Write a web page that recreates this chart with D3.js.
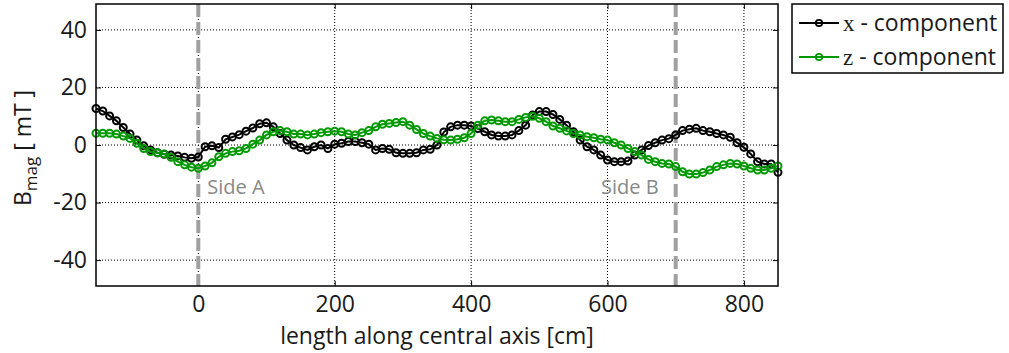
<!DOCTYPE html>
<html>
<head>
<meta charset="utf-8">
<script src="https://cdn.jsdelivr.net/npm/d3@7"></script>
<style>
  body { margin: 0; background: #fff; }
  text { font-family: "Open Sans", Lato, sans-serif; }
</style>
</head>
<body>
<svg id="chart" width="1009" height="353"></svg>
<script>
// positions along the axis [cm]
var positions = [-150,-140,-130,-120,-110,-100,-90,-80,-70,-60,-50,-40,-30,-20,-10,
  0,10,20,30,40,50,60,70,80,90,100,110,120,130,140,150,160,170,180,190,
  200,210,220,230,240,250,260,270,280,290,300,310,320,330,340,350,360,370,380,390,
  400,410,420,430,440,450,460,470,480,490,500,510,520,530,540,550,560,570,580,590,
  600,610,620,630,640,650,660,670,680,690,700,710,720,730,740,750,760,770,780,790,
  800,810,820,830,840,850];

// x - component [mT]
var xComp = [12.7,11.8,10.1,8.4,6.1,3.8,1.7,-0.3,-1.7,-2.7,-3.2,-3.5,-3.8,-4.3,-4.6,
  -4.2,-0.6,-0.3,-0.9,2.0,2.8,3.6,4.8,5.9,7.4,7.7,6.3,4.0,1.7,0.0,-0.9,-1.7,-0.6,0.0,-1.2,
  0.3,0.6,1.2,1.2,0.8,0.3,-1.7,-1.2,-1.5,-2.7,-2.9,-2.9,-2.7,-1.7,-1.5,0.0,4.5,6.3,6.9,6.9,
  6.6,5.7,4.6,3.5,3.1,3.1,3.5,5.0,6.9,10.4,11.6,11.6,10.6,8.9,6.9,4.6,1.7,-0.6,-1.7,-3.5,
  -5.2,-5.8,-5.8,-5.6,-3.5,-1.7,-0.2,0.8,1.7,2.2,3.5,5.0,5.5,5.8,5.0,4.6,4.0,3.5,2.7,0.8,
  -0.8,-3.1,-5.8,-6.6,-6.6,-9.5];

// z - component [mT]
var zComp = [4.1,4.1,4.1,3.8,3.1,2.3,0.6,-1.2,-2.3,-2.7,-3.1,-4.3,-5.8,-6.9,-7.7,
  -8.1,-7.3,-6.2,-4.1,-2.9,-2.3,-2.0,-1.2,0.3,1.7,3.5,4.6,5.0,4.6,3.8,3.8,3.5,3.8,4.3,4.6,
  4.8,4.6,3.8,3.5,4.3,5.0,6.3,7.2,7.5,7.8,8.1,6.9,5.4,4.0,3.1,2.3,1.8,1.7,2.0,2.5,
  4.0,6.9,8.4,8.7,8.4,8.1,8.1,8.9,9.6,10.0,9.3,8.1,6.6,5.8,4.9,4.0,3.5,2.9,2.5,2.0,
  1.7,0.8,0.0,-1.2,-2.3,-3.5,-5.0,-5.8,-6.4,-6.6,-7.5,-9.3,-10.1,-10.1,-9.6,-8.7,-7.5,-6.9,-6.4,-6.6,
  -7.3,-8.1,-8.7,-8.7,-8.1,-7.3];

var xTicks = [0, 200, 400, 600, 800];
var yTicks = [-40, -20, 0, 20, 40];
var sides = [{pos: 0, label: "Side A"}, {pos: 700, label: "Side B"}];
var seriesNames = ["x", "z"];
var seriesColors = ["#000000", "#009900"];

var svg = d3.select("#chart");
var pLeft = 96, pRight = 778, pTop = 4, pBottom = 286;

var x = d3.scaleLinear().domain([-150, 850]).range([pLeft, pRight]);
var y = d3.scaleLinear().domain([-49, 49]).range([pBottom, pTop]);

var chart = svg.append("g");

// grid
chart.selectAll(".gx").data(xTicks).enter().append("line")
  .attr("x1", function(d) { return x(d); }).attr("x2", function(d) { return x(d); })
  .attr("y1", pTop).attr("y2", pBottom)
  .attr("stroke", "#000").attr("stroke-width", 1).attr("stroke-dasharray", "1,2");
chart.selectAll(".gy").data(yTicks).enter().append("line")
  .attr("x1", pLeft).attr("x2", pRight)
  .attr("y1", function(d) { return y(d); }).attr("y2", function(d) { return y(d); })
  .attr("stroke", "#000").attr("stroke-width", 1).attr("stroke-dasharray", "1,2");

// axes with inward ticks
chart.append("g").attr("transform", "translate(0," + pBottom + ")")
  .call(d3.axisBottom(x).tickValues(xTicks).tickSize(-5).tickPadding(10).tickFormat(String))
  .call(function(g) { g.select(".domain").remove(); });
chart.append("g").attr("transform", "translate(0," + pTop + ")")
  .call(d3.axisTop(x).tickValues(xTicks).tickSize(-5).tickFormat(""))
  .call(function(g) { g.select(".domain").remove(); });
chart.append("g").attr("transform", "translate(" + pLeft + ",0)")
  .call(d3.axisLeft(y).tickValues(yTicks).tickSize(-5).tickPadding(9).tickFormat(String))
  .call(function(g) { g.select(".domain").remove(); });
chart.append("g").attr("transform", "translate(" + pRight + ",0)")
  .call(d3.axisRight(y).tickValues(yTicks).tickSize(-5).tickFormat(""))
  .call(function(g) { g.select(".domain").remove(); });

chart.selectAll(".tick text").attr("font-size", 23).attr("fill", "#1a1a1a")
  .style("font-family", "'Open Sans', sans-serif");
chart.selectAll(".tick line").attr("stroke", "#000").attr("stroke-width", 1);

// side markers
chart.selectAll(".side").data(sides).enter().append("line")
  .attr("x1", function(d) { return x(d.pos); }).attr("x2", function(d) { return x(d.pos); })
  .attr("y1", pTop).attr("y2", pBottom)
  .attr("stroke", "#a0a0a0").attr("stroke-width", 4).attr("stroke-dasharray", "13,5");

chart.selectAll(".sidelabel").data(sides).enter().append("text")
  .attr("x", function(d, i) { return i == 0 ? x(d.pos) + 9 : x(d.pos) - 17; })
  .attr("y", 194)
  .attr("text-anchor", function(d, i) { return i == 0 ? "start" : "end"; })
  .attr("font-size", 20).attr("fill", "#888")
  .text(function(d) { return d.label; });

// lines + markers
var series = [xComp, zComp];
series.forEach(function(vals, k) {
  var pts = positions.map(function(p, i) { return [p, vals[i]]; });
  var line = d3.line().x(function(d) { return x(d[0]); }).y(function(d) { return y(d[1]); });
  chart.append("path").attr("d", line(pts)).attr("fill", "none")
    .attr("stroke", seriesColors[k]).attr("stroke-width", 2);
  chart.append("g").selectAll("circle").data(pts).enter().append("circle")
    .attr("cx", function(d) { return x(d[0]); })
    .attr("cy", function(d) { return y(d[1]); })
    .attr("r", 3.5).attr("fill", "none")
    .attr("stroke", seriesColors[k]).attr("stroke-width", 2);
});

// frame
chart.append("rect").attr("x", pLeft).attr("y", pTop)
  .attr("width", pRight - pLeft).attr("height", pBottom - pTop)
  .attr("fill", "none").attr("stroke", "#000").attr("stroke-width", 1.5);

// axis labels
svg.append("text").attr("x", x(350)).attr("y", 344).attr("text-anchor", "middle")
  .attr("font-size", 23).attr("fill", "#1a1a1a").text("length along central axis [cm]");

var yl = svg.append("text").attr("transform", "translate(31,148) rotate(-90)")
  .attr("text-anchor", "middle").attr("font-size", 23).attr("fill", "#1a1a1a");
yl.append("tspan").text("B");
yl.append("tspan").attr("dy", 6).attr("font-size", 17).text("mag");
yl.append("tspan").attr("dy", -6).text(" [ mT ]");

// legend
var lg = svg.append("g");
lg.append("rect").attr("x", 792).attr("y", 4).attr("width", 211).attr("height", 69)
  .attr("fill", "#fff").attr("stroke", "#000").attr("stroke-width", 1.5);
seriesNames.forEach(function(name, k) {
  var ly = 23 + k * 34;
  lg.append("line").attr("x1", 799).attr("x2", 839).attr("y1", ly).attr("y2", ly)
    .attr("stroke", seriesColors[k]).attr("stroke-width", 2);
  lg.append("circle").attr("cx", 819).attr("cy", ly).attr("r", 3.2)
    .attr("fill", "none").attr("stroke", seriesColors[k]).attr("stroke-width", 1.8);
  var t = lg.append("text").attr("x", 843).attr("y", ly + 8).attr("font-size", 23).attr("fill", "#1a1a1a");
  t.append("tspan").style("font-family", "'Liberation Serif', serif").text(name);
  t.append("tspan").text(" - component");
});
</script>
</body>
</html>
